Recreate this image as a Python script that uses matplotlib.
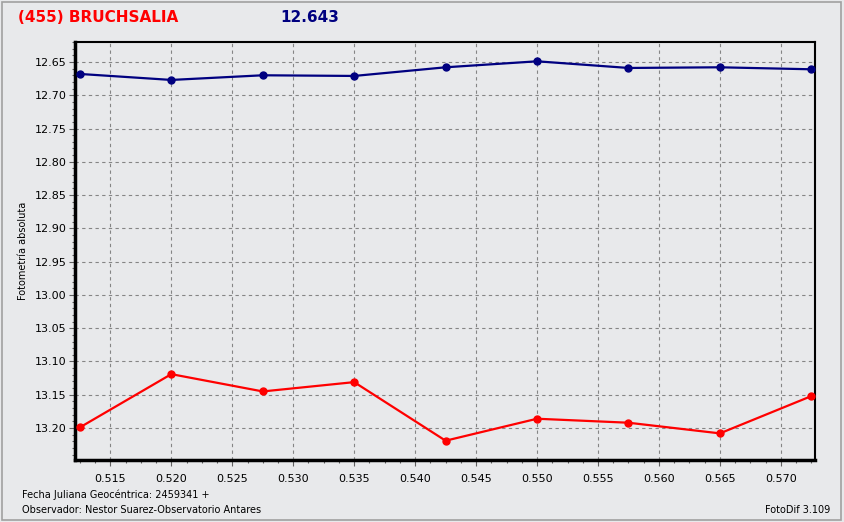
import matplotlib
matplotlib.use("Agg")
import matplotlib.pyplot as plt
from matplotlib.ticker import MultipleLocator, FormatStrFormatter
from matplotlib.patches import Rectangle

# datos
jd = [0.5125, 0.5200, 0.5275, 0.5350, 0.5425, 0.5500, 0.5575, 0.5650, 0.5725]
mag_asteroide = [12.668, 12.677, 12.670, 12.671, 12.658, 12.649, 12.659, 12.658, 12.661]
mag_comparacion = [13.199, 13.119, 13.145, 13.131, 13.219, 13.186, 13.192, 13.208, 13.152]

titulo = "(455) BRUCHSALIA"
valor = "12.643"
fecha = "Fecha Juliana Geocéntrica: 2459341 +"
observador = "Observador: Nestor Suarez-Observatorio Antares"
version = "FotoDif 3.109"

bg = "#e8e9eb"
navy = "#000080"
red = "#ff0000"

fig = plt.figure(figsize=(8.44, 5.22), dpi=100, facecolor=bg)
fig.patches.append(Rectangle((0.002, 0.004), 0.994, 0.992, transform=fig.transFigure,
                             fill=False, edgecolor="#a0a0a0", lw=1.2))

ax = fig.add_axes([75 / 844, 62 / 522, 740 / 844, 418 / 522], facecolor=bg)

ax.plot(jd, mag_asteroide, color=navy, lw=1.6, marker="o", ms=5, zorder=3)
ax.plot(jd, mag_comparacion, color=red, lw=1.6, marker="o", ms=5, zorder=3)

ax.set_xlim(0.5121, 0.5728)
ax.set_ylim(13.248, 12.620)

ax.xaxis.set_major_locator(MultipleLocator(0.005))
ax.xaxis.set_minor_locator(MultipleLocator(0.00125))
ax.xaxis.set_major_formatter(FormatStrFormatter("%.3f"))
ax.yaxis.set_major_locator(MultipleLocator(0.05))
ax.yaxis.set_minor_locator(MultipleLocator(0.01))
ax.yaxis.set_major_formatter(FormatStrFormatter("%.2f"))

ax.grid(True, which="major", color="#858585", ls=(0, (3, 3)), lw=0.8)
ax.tick_params(axis="both", which="major", labelsize=8, length=4, width=0.8,
               color="#606060", pad=2)
ax.tick_params(axis="both", which="minor", length=2, width=0.8, color="#606060")
ax.tick_params(axis="x", which="major", pad=6)

for s in ["top", "right"]:
    ax.spines[s].set_linewidth(1.5)
for s in ["left", "bottom"]:
    ax.spines[s].set_linewidth(2.5)

ax.set_ylabel("Fotometría absoluta", fontsize=7)
ax.yaxis.set_label_coords(-47 / 740, 0.5)

fig.text(18 / 844, 1 - 18 / 522, titulo, color=red, fontsize=11, fontweight="bold", va="center")
fig.text(280 / 844, 1 - 18 / 522, valor, color=navy, fontsize=11, fontweight="bold", va="center")
fig.text(22 / 844, 1 - 495 / 522, fecha, fontsize=7, va="center")
fig.text(22 / 844, 1 - 510 / 522, observador, fontsize=7, va="center")
fig.text(830 / 844, 1 - 510 / 522, version, fontsize=7, va="center", ha="right")

fig.savefig("out.png", dpi=100, facecolor=bg)
